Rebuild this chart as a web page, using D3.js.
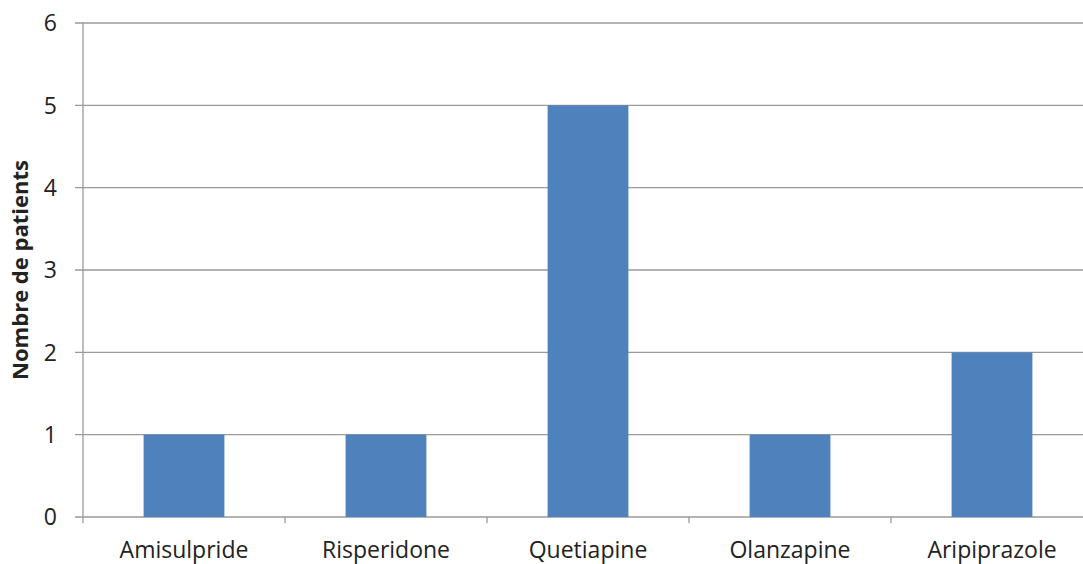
<!DOCTYPE html>
<html><head><meta charset="utf-8">
<script src="https://cdn.jsdelivr.net/npm/d3@7"></script>
<style>body{margin:0;background:#fff;overflow:hidden}svg{display:block}text{font-family:"Open Sans",sans-serif;fill:#222}</style>
</head><body><svg id="c" width="1083" height="564"></svg>
<script>
const categories = ["Amisulpride","Risperidone","Quetiapine","Olanzapine","Aripiprazole"];
const values = [1,1,5,1,2];
const yTicks = [0,1,2,3,4,5,6];
const yTitle = "Nombre de patients";

const svg = d3.select("#c");
const W = 1083, H = 564;
const m = {l:83, t:23, b:47};
const x = d3.scaleBand().domain(categories).range([m.l, 1093]).padding(0);
const y = d3.scaleLinear().domain([0,6]).range([H - m.b, m.t]);
const grid = "#9a9a9a";

// gridlines
svg.append("g").selectAll("line").data(yTicks).join("line")
  .attr("x1", m.l - 8).attr("x2", 1093)
  .attr("y1", d => y(d)).attr("y2", d => y(d))
  .attr("stroke", grid).attr("stroke-width", 1.3);

// bars
const bw = x.bandwidth() * 0.4;
svg.append("g").selectAll("rect").data(categories).join("rect")
  .attr("x", (d) => x(d) + x.bandwidth()/2 - bw/2)
  .attr("width", bw)
  .attr("y", (d,i) => y(values[i]))
  .attr("height", (d,i) => y(0) - y(values[i]))
  .attr("fill", "#4F81BD");

// y axis line
svg.append("line").attr("x1", m.l).attr("x2", m.l).attr("y1", y(6)).attr("y2", y(0))
  .attr("stroke", grid).attr("stroke-width", 1.3);

// x axis tick marks at band boundaries
const bounds = categories.map(c => x(c));
svg.append("g").selectAll("line").data(bounds).join("line")
  .attr("x1", d => d).attr("x2", d => d)
  .attr("y1", y(0)).attr("y2", y(0) + 6)
  .attr("stroke", grid).attr("stroke-width", 1.3);

// y tick labels
svg.append("g").selectAll("text").data(yTicks).join("text")
  .attr("x", 57).attr("y", d => y(d)).attr("dy", "0.36em")
  .attr("text-anchor", "end").attr("font-size", 23).text(d => d);

// x labels
svg.append("g").selectAll("text").data(categories).join("text")
  .attr("x", d => x(d) + x.bandwidth()/2).attr("y", 558)
  .attr("text-anchor", "middle").attr("font-size", 23).text(d => d);

// y title
svg.append("text").attr("transform", "translate(28,270) rotate(-90)")
  .attr("text-anchor", "middle").attr("font-size", 22).attr("font-weight", "bold").text(yTitle);
</script></body></html>
